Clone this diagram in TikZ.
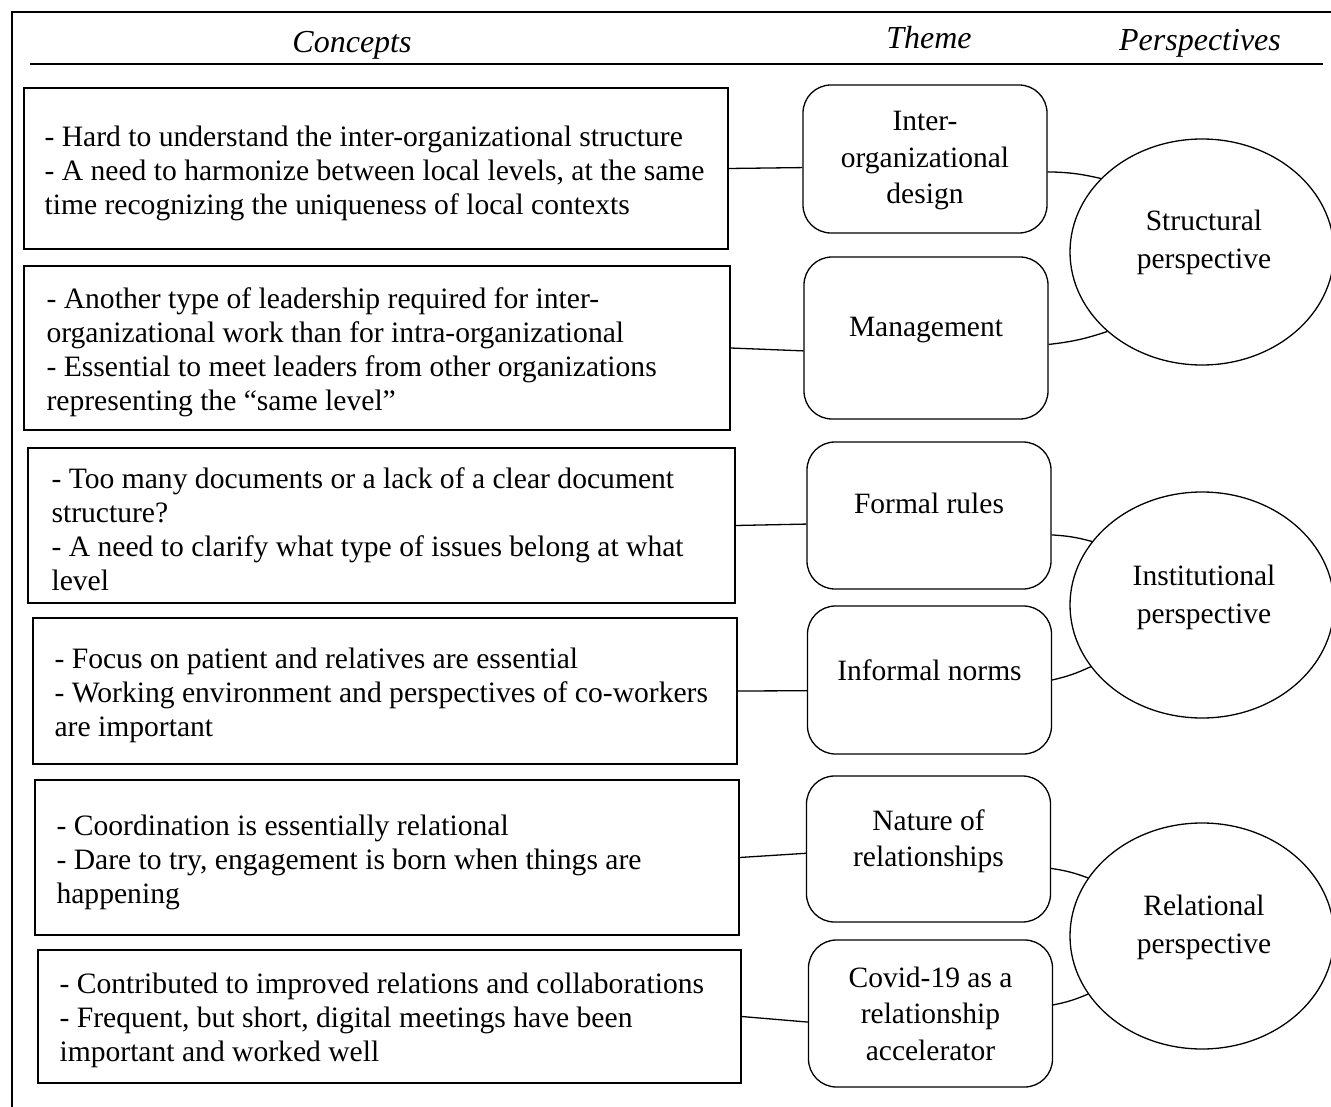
\documentclass[tikz,border=0pt]{standalone}
\usepackage{fontspec}
\setmainfont{Liberation Serif}
\usetikzlibrary{shapes.geometric}
\newcommand\conceptfnt{\fontsize{29.6}{34}\selectfont}
\newcommand\themefnt{\fontsize{29.5}{36.5}\selectfont}
\newcommand\perspfnt{\fontsize{29.5}{38}\selectfont}
\newcommand\headfnt{\fontsize{32}{34}\selectfont\itshape}
\begin{document}
\begin{tikzpicture}[x=1pt,y=-1pt,
  concept/.style={draw, line width=1.3pt, inner sep=0pt},
  concepttext/.style={align=left, font=\conceptfnt, inner sep=0pt, anchor=west, xshift=21pt, yshift=-4pt},
  theme/.style={draw, line width=1.3pt, rounded corners=28pt, minimum width=244pt, inner sep=0pt},
  themetext/.style={align=center, font=\themefnt, inner sep=0pt},
  persp/.style={draw, ellipse, line width=1.3pt, minimum width=264pt, minimum height=226pt, inner sep=0pt},
  persptext/.style={align=center, font=\perspfnt, inner sep=0pt},
  head/.style={font=\headfnt, inner sep=0pt, anchor=base},
  link/.style={line width=1.3pt},
  rule/.style={line width=1.4pt},
  frame/.style={line width=2.4pt}]
\useasboundingbox (0,0) rectangle (1331,1107);
% outer frame (left and top visible)
\draw[frame] (12,1130) -- (12,12) -- (1360,12);
% headings
\node[head] (hc) at (352,53) {Concepts};
\node[head] (ht) at (929,49) {Theme};
\node[head] (hp) at (1200,51) {Perspectives};
\draw[rule] (30,64) -- (1323,64);
% concepts
\node[concept, minimum width=704pt, minimum height=161pt,
  label={[concepttext, yshift=-1pt]west:{- Hard to understand the inter-organizational structure\\- A need to harmonize between local levels, at the same\\time recognizing the uniqueness of local contexts}}] (c1) at (376,168.5) {};
\node[concept, minimum width=706pt, minimum height=164pt,
  label={[concepttext, xshift=2pt]west:{- Another type of leadership required for inter-\\organizational work than for intra-organizational\\- Essential to meet leaders from other organizations\\representing the “same level”}}] (c2) at (377,348) {};
\node[concept, minimum width=707pt, minimum height=155pt,
  label={[concepttext, xshift=3pt]west:{- Too many documents or a lack of a clear document\\structure?\\- A need to clarify what type of issues belong at what\\level}}] (c3) at (381.5,525.5) {};
\node[concept, minimum width=704pt, minimum height=146pt,
  label={[concepttext, xshift=1pt]west:{- Focus on patient and relatives are essential\\- Working environment and perspectives of co-workers\\are important}}] (c4) at (385,691) {};
\node[concept, minimum width=704pt, minimum height=155pt,
  label={[concepttext, xshift=1pt, yshift=-1pt]west:{- Coordination is essentially relational\\- Dare to try, engagement is born when things are\\happening}}] (c5) at (387,857.5) {};
\node[concept, minimum width=703pt, minimum height=133pt,
  label={[concepttext, xshift=1pt]west:{- Contributed to improved relations and collaborations\\- Frequent, but short, digital meetings have been\\important and worked well}}] (c6) at (389.5,1016.5) {};
% themes
\node[theme, minimum height=148pt, label={[themetext, yshift=-2pt]center:{Inter-\\organizational\\design}}] (t1) at (925,159) {};
\node[theme, minimum height=162pt, label={[themetext, yshift=8pt]center:{Management}}] (t2) at (926,338) {};
\node[theme, minimum height=147pt, label={[themetext, yshift=12pt]center:{Formal rules}}] (t3) at (929,515.5) {};
\node[theme, minimum height=148pt, label={[themetext, yshift=10pt]center:{Informal norms}}] (t4) at (929.5,680) {};
\node[theme, minimum height=146pt, label={[themetext, yshift=8pt]center:{Nature of\\relationships}}] (t5) at (928.5,849) {};
\node[theme, minimum height=147pt, label={[themetext, yshift=0pt]center:{Covid-19 as a\\relationship\\accelerator}}] (t6) at (930.5,1013.5) {};
% perspectives
\node[persp, label={[persptext, yshift=10pt, xshift=2pt]center:{Structural\\perspective}}] (p1) at (1202,252) {};
\node[persp, label={[persptext, yshift=8pt, xshift=2pt]center:{Institutional\\perspective}}] (p2) at (1202,605) {};
\node[persp, label={[persptext, yshift=8.5pt, xshift=2pt]center:{Relational\\perspective}}] (p3) at (1202,936) {};
% links concept -> theme
\draw[link] (c1.east) -- (t1.184.2);
\draw[link] (c2.east) -- (t2.186.1);
\draw[link] (c3.east) -- (t3.184);
\draw[link] (c4.east) -- (t4.185.6);
\draw[link] (c5.east) -- (t5.182.3);
\draw[link] (c6.east) -- (t6.184.5);
% links theme -> perspective
\draw[link] (t1.-6.5) to[bend left=6] (p1.144.6);
\draw[link] (t2.-3.3) to[bend right=6] (p1.220.3);
\draw[link] (t3.-9.1) to[bend left=6] (p2.150.2);
\draw[link] (t4.0) to[bend right=6] (p2.209.8);
\draw[link] (t5.-9.3) to[bend left=6] (p3.153.2);
\draw[link] (t6.4.5) to[bend right=6] (p3.207.2);
\end{tikzpicture}
\end{document}
